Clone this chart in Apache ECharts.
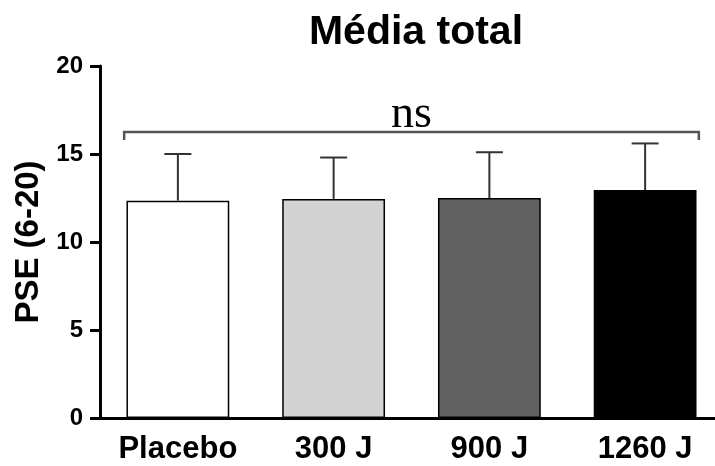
<!DOCTYPE html>
<html>
<head>
<meta charset="utf-8">
<script src="https://cdn.jsdelivr.net/npm/echarts@6/dist/echarts.min.js"></script>
<style>html,body{margin:0;padding:0;background:#fff}#c{width:715px;height:466px}</style>
</head>
<body>
<div id="c"></div>
<script>
var categories = ['Placebo', '300 J', '900 J', '1260 J'];
var means = [12.35, 12.45, 12.5, 12.95];
var errTops = [15.0, 14.8, 15.1, 15.6];
var barColors = ['#ffffff', '#d3d3d3', '#606060', '#000000'];
var yTicks = [0, 5, 10, 15, 20];
var bracketLevel = 16.25;
var bracketLabel = 'ns';

var chart = echarts.init(document.getElementById('c'));
var bold = {fontFamily: 'Liberation Sans, Arial, sans-serif', fontWeight: 'bold', color: '#000'};

chart.setOption({
  animation: false,
  title: {
    text: 'Média total', left: 411, top: 7, textAlign: 'center',
    textStyle: Object.assign({fontSize: 41}, bold)
  },
  grid: {left: 100, top: 66, width: 623, height: 352, containLabel: false, outerBoundsMode: 'none'},
  xAxis: {
    type: 'category', data: categories,
    axisLine: {lineStyle: {color: '#000', width: 3}},
    axisTick: {alignWithLabel: true, length: 10, lineStyle: {color: '#000', width: 3}},
    axisLabel: Object.assign({fontSize: 31, margin: 16, interval: 0, hideOverlap: false}, bold)
  },
  yAxis: {
    type: 'value', min: yTicks[0], max: yTicks[yTicks.length - 1], interval: 5,
    name: 'PSE (6-20)', nameLocation: 'middle', nameGap: 55, nameRotate: 90,
    nameTextStyle: Object.assign({fontSize: 33}, bold),
    splitLine: {show: false},
    axisLine: {show: true, lineStyle: {color: '#000', width: 3}},
    axisTick: {show: true, length: 10, lineStyle: {color: '#000', width: 3}},
    axisLabel: Object.assign({fontSize: 24, margin: 17}, bold)
  },
  series: [
    {
      type: 'bar', barWidth: '66%',
      data: means.map(function (v, i) {
        return {value: v, itemStyle: {color: barColors[i], borderColor: '#000', borderWidth: 1.5}};
      }),
      z: 2
    },
    {
      type: 'custom', z: 3,
      data: categories.map(function (c, i) { return [i, means[i], errTops[i]]; }),
      renderItem: function (params, api) {
        var base = api.coord([api.value(0), api.value(1)]);
        var top = api.coord([api.value(0), api.value(2)]);
        var cap = 13.5;
        var st = {stroke: '#333', lineWidth: 2};
        return {type: 'group', children: [
          {type: 'line', shape: {x1: base[0], y1: base[1], x2: top[0], y2: top[1]}, style: st},
          {type: 'line', shape: {x1: top[0] - cap, y1: top[1], x2: top[0] + cap, y2: top[1]}, style: st}
        ]};
      }
    },
    {
      type: 'custom', z: 3,
      data: [[0, categories.length - 1, bracketLevel]],
      renderItem: function (params, api) {
        var half = api.size([1, 0])[0] * 0.345;
        var a = api.coord([api.value(0), api.value(2)]);
        var b = api.coord([api.value(1), api.value(2)]);
        var x1 = a[0] - half, x2 = b[0] + half, y = a[1];
        var st = {stroke: '#555', lineWidth: 2.5, fill: 'none'};
        return {type: 'group', children: [
          {type: 'polyline', shape: {points: [[x1, y + 8], [x1, y], [x2, y], [x2, y + 8]]}, style: st},
          {type: 'text', style: {text: bracketLabel, x: (x1 + x2) / 2, y: y + 6, align: 'center', verticalAlign: 'bottom',
            font: '46px "Liberation Serif", "Times New Roman", serif', fill: '#000'}}
        ]};
      }
    }
  ]
});
</script>
</body>
</html>
